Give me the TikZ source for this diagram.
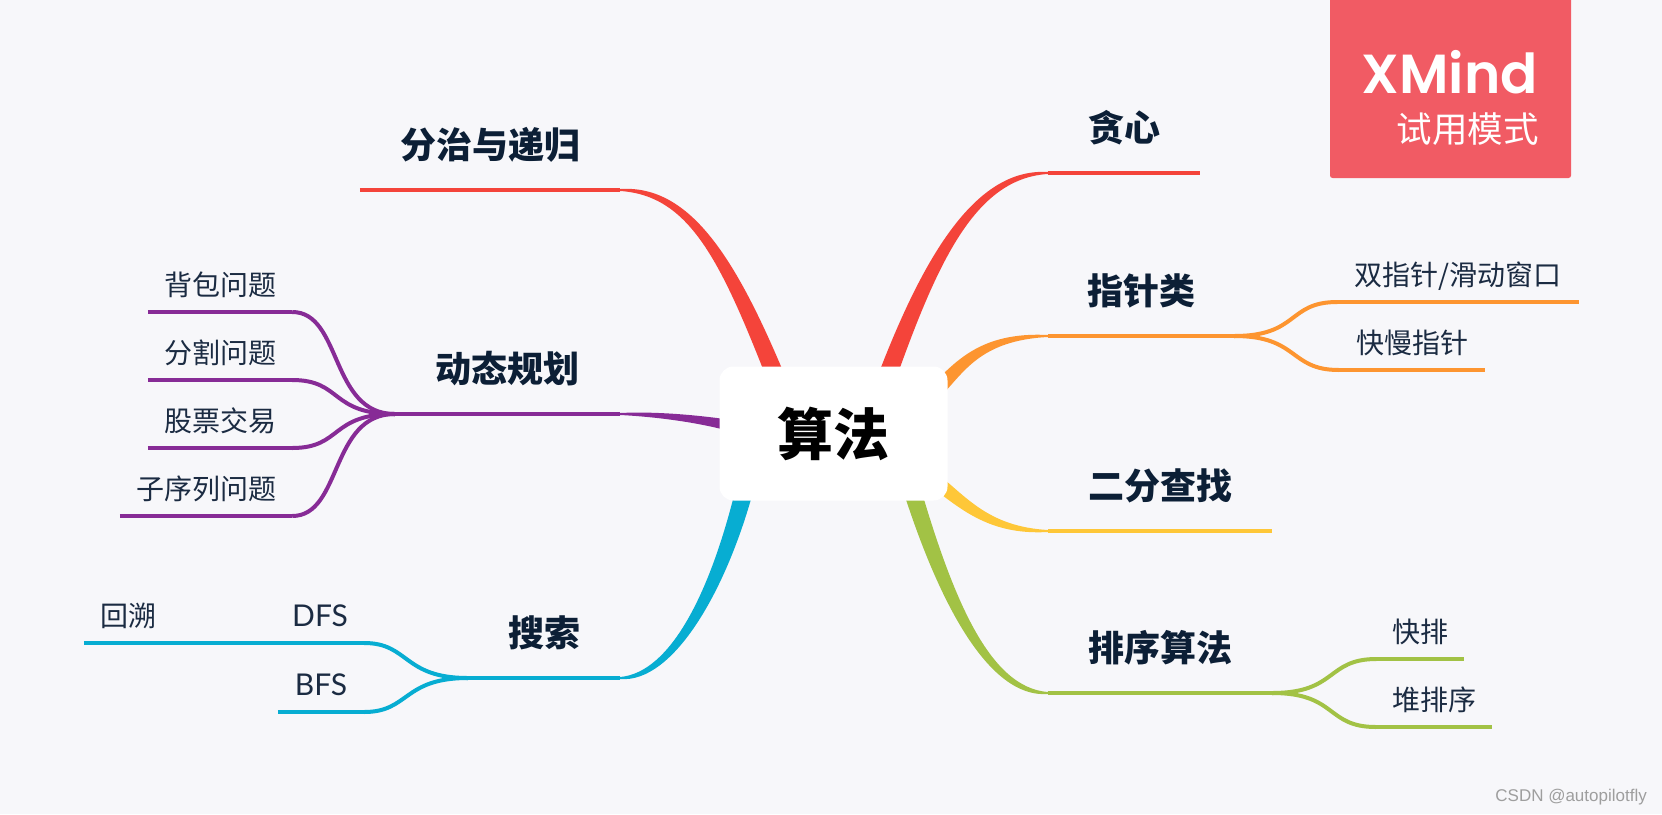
\documentclass[tikz,border=0pt]{standalone}
\usepackage{fontspec}
\newfontfamily\cjk{Noto Sans CJK SC}
\newfontfamily\latinleaf{Lato}
\newfontfamily\logofont{Poppins SemiBold}
\newfontfamily\markfont{Liberation Sans}
\definecolor{bgcol}{HTML}{F7F7FA}
\definecolor{logocol}{HTML}{F15B64}
\definecolor{topiccol}{HTML}{0C1F36}
\definecolor{leafcol}{HTML}{1B2B42}
\definecolor{redb}{HTML}{F4443A}
\definecolor{orangeb}{HTML}{FD9530}
\definecolor{yellowb}{HTML}{FEC738}
\definecolor{greenb}{HTML}{A2C245}
\definecolor{blueb}{HTML}{07ADD2}
\definecolor{purpleb}{HTML}{872B96}
\tikzset{
    topic/.style={font=\cjk\bfseries\fontsize{36}{40}\selectfont, text=topiccol, anchor=south,
        inner sep=0pt, text height=31pt, text depth=5pt, minimum height=88pt},
    leaf/.style={font=\cjk\fontsize{28}{32}\selectfont, text=leafcol, anchor=south,
        inner sep=0pt, text height=24pt, text depth=4pt, minimum height=52pt},
    latinfont/.style={font=\latinleaf\fontsize{30}{34}\selectfont},
    stem/.style={line width=4pt},
    taper/.style={line width=2pt, line join=round}
}
\begin{document}
\begin{tikzpicture}[x=1pt,y=-1pt]
% фон
            \useasboundingbox ( 0, 0 ) rectangle ( 1662, 814 );
            \fill [bgcol] ( 0, 0 ) rectangle ( 1662, 814 );

% подписи веток справа
            \node [topic, minimum width=152pt] (tanxin) at ( 1124, 173 ) {贪心};
            \node [topic, minimum width=186pt] (zhizhen) at ( 1141, 336 ) {指针类};
            \node [topic, minimum width=224pt] (erfen) at ( 1160, 531 ) {二分查找};
            \node [topic, minimum width=224pt] (paixu) at ( 1160, 693 ) {排序算法};

% подписи веток слева
            \node [topic, minimum width=260pt] (fenzhi) at ( 490, 190 ) {分治与递归};
            \node [topic, minimum width=225pt] (dongtai) at ( 507.5, 414 ) {动态规划};
            \node [topic, minimum width=152pt] (sousuo) at ( 544, 678 ) {搜索};

% листья
            \node [leaf, minimum width=241pt] (shuang) at ( 1458, 302 ) {双指针/滑动窗口};
            \node [leaf, minimum width=146pt] (kuaiman) at ( 1412, 370 ) {快慢指针};
            \node [leaf, minimum width=87pt] (kuaipai) at ( 1420, 659 ) {快排};
            \node [leaf, minimum width=116pt] (duipai) at ( 1434, 727 ) {堆排序};
            \node [leaf, minimum width=144pt] (beibao) at ( 220, 312 ) {背包问题};
            \node [leaf, minimum width=144pt] (fenge) at ( 220, 380 ) {分割问题};
            \node [leaf, minimum width=144pt] (gupiao) at ( 220, 448 ) {股票交易};
            \node [leaf, minimum width=172pt] (zixulie) at ( 206, 516 ) {子序列问题};
            \node [leaf, latinfont, minimum width=88pt] (dfs) at ( 320, 643 ) {DFS};
            \node [leaf, latinfont, minimum width=86pt] (bfs) at ( 321, 712 ) {BFS};
            \node [leaf, minimum width=88pt] (huisu) at ( 128, 643 ) {回溯};

% толстые ветки от центра
            \coordinate (rootA) at ( 875.3, 385 );
            \coordinate (rootB) at ( 892.7, 385 );
            \filldraw [taper, redb] (tanxin.south west) .. controls +( -73, -4.5 ) and +( 47, -125 ) .. (rootA)
                -- (rootB) .. controls +( 44.2, -125 ) and +( -73, 4.5 ) .. (tanxin.south west) -- cycle;

            \coordinate (rootC) at ( 770.3, 385 );
            \coordinate (rootD) at ( 787.7, 385 );
            \filldraw [taper, redb] (fenzhi.south east) .. controls +( 70, -4.5 ) and +( -51.4, -125 ) .. (rootD)
                -- (rootC) .. controls +( -48.6, -125 ) and +( 70, 4.5 ) .. (fenzhi.south east) -- cycle;

            \coordinate (rootE) at ( 930.6, 387.6 );
            \coordinate (rootF) at ( 939.4, 396.4 );
            \filldraw [taper, orangeb] (zhizhen.south west) .. controls +( -68, -3.5 ) and +( 25, -24 ) .. (rootE)
                -- (rootF) .. controls +( 24, -25 ) and +( -68, 3.5 ) .. (zhizhen.south west) -- cycle;

            \coordinate (rootG) at ( 933.7, 472 );
            \coordinate (rootH) at ( 926.3, 482 );
            \filldraw [taper, yellowb] (erfen.south west) .. controls +( -61, -3.5 ) and +( 31.6, 24.6 ) .. (rootG)
                -- (rootH) .. controls +( 32.4, 23.4 ) and +( -61, 3.5 ) .. (erfen.south west) -- cycle;

            \coordinate (rootI) at ( 900.8, 480 );
            \coordinate (rootJ) at ( 917.2, 480 );
            \filldraw [taper, greenb] (paixu.south west) .. controls +( -59, 4.5 ) and +( 37.2, 120 ) .. (rootI)
                -- (rootJ) .. controls +( 34.8, 120 ) and +( -59, -4.5 ) .. (paixu.south west) -- cycle;

            \coordinate (rootK) at ( 738.8, 480 );
            \coordinate (rootL) at ( 755.2, 480 );
            \filldraw [taper, blueb] (sousuo.south east) .. controls +( 52, -4.5 ) and +( -25.8, 110 ) .. (rootK)
                -- (rootL) .. controls +( -28.2, 110 ) and +( 52, 4.5 ) .. (sousuo.south east) -- cycle;

            \coordinate (rootM) at ( 745, 423.2 );
            \coordinate (rootN) at ( 745, 434.8 );
            \filldraw [taper, purpleb] (dongtai.south east) .. controls +( 40, -2 ) and +( -35, -6 ) .. (rootM)
                -- (rootN) .. controls +( -35, -12 ) and +( 40, 2 ) .. (dongtai.south east) -- cycle;

% линии под подписями
            \draw [stem, redb] (tanxin.south west) -- (tanxin.south east);
            \draw [stem, redb] (fenzhi.south west) -- (fenzhi.south east);
            \draw [stem, orangeb] (zhizhen.south west) -- (zhizhen.south east);
            \draw [stem, yellowb] (erfen.south west) -- (erfen.south east);
            \draw [stem, greenb] (paixu.south west) -- (paixu.south east);
            \draw [stem, purpleb] (dongtai.south west) -- (dongtai.south east);
            \draw [stem, blueb] (sousuo.south west) -- (sousuo.south east);

% листья и связи
            \foreach \name in {shuang, kuaiman} {
                \draw [stem, orangeb] (\name.south west) -- (\name.south east);
                \draw [stem, orangeb] (zhizhen.south east) .. controls +( 65, 0 ) and +( -50, 0 ) .. (\name.south west);
            }
            \foreach \name in {kuaipai, duipai} {
                \draw [stem, greenb] (\name.south west) -- (\name.south east);
                \draw [stem, greenb] (paixu.south east) .. controls +( 65, 0 ) and +( -50, 0 ) .. (\name.south west);
            }
            \foreach \name in {beibao, fenge, gupiao, zixulie} {
                \draw [stem, purpleb] (\name.south west) -- (\name.south east);
                \draw [stem, purpleb] (\name.south east) .. controls +( 50, 0 ) and +( -65, 0 ) .. (dongtai.south west);
            }
            \foreach \name in {dfs, bfs} {
                \draw [stem, blueb] (\name.south west) -- (\name.south east);
                \draw [stem, blueb] (\name.south east) .. controls +( 45, 0 ) and +( -65, 0 ) .. (sousuo.south west);
            }
            \draw [stem, blueb] (huisu.south west) -- (huisu.south east) -- (dfs.south west);

% центр
            \node [fill=white, rounded corners=14pt, minimum width=228pt, minimum height=134pt, inner sep=0pt,
                font=\cjk\bfseries\fontsize{56}{60}\selectfont] (suanfa) at ( 833.5, 433.5 ) {算法};

% логотип
            \node [fill=logocol, rounded corners=2.5pt, minimum width=241pt, minimum height=188pt, inner sep=0pt] (logo) at ( 1450.5, 84 ) {};
            \node [anchor=base east, text=white, font=\logofont\fontsize{55}{60}\selectfont, inner sep=0pt] (xmind) at ( 1538, 93 ) {XMind};
            \node [anchor=base east, text=white, font=\cjk\fontsize{35.5}{40}\selectfont, inner sep=0pt] (shiyong) at ( 1539, 142 ) {试用模式};

% подпись
            \node [anchor=base east, text=black!38, font=\markfont\fontsize{17}{20}\selectfont, inner sep=0pt] (mark) at ( 1647, 801 ) {CSDN @autopilotfly};
        \end{tikzpicture}
\end{document}
